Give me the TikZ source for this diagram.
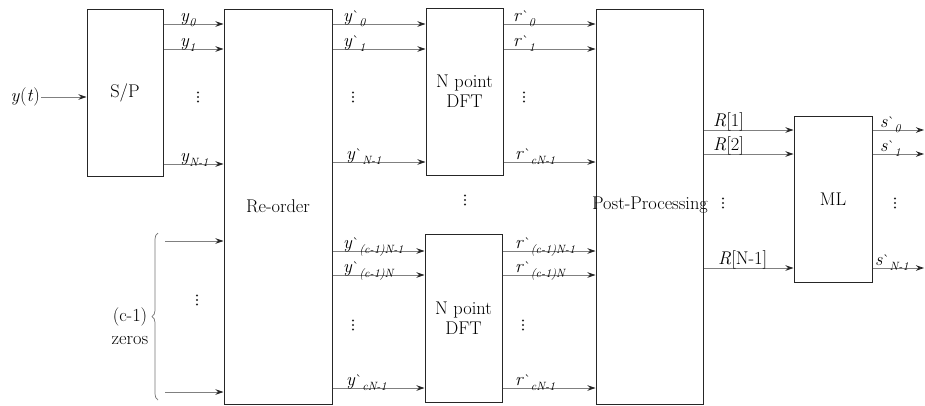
\documentclass[tikz,border=0pt]{standalone}
\usetikzlibrary{arrows.meta,decorations.pathreplacing,calc}
\newcommand\sbs[1]{\raisebox{-0.32em}{\fontsize{12}{12}\selectfont\itshape #1}}
\newcommand\prm{\raisebox{0.05em}{\fontsize{14}{14}\selectfont\textasciigrave}}
\newcommand\vdts[1]{\foreach \k in {-1,0,1}{\fill[black!85] ($(#1)+(0,\k*4.5)$) circle (1.1);}}
\begin{document}
\begin{tikzpicture}[x=1pt,y=-1pt,
  box/.style={draw=black!85,line width=1pt,inner sep=0pt,align=center,
    font=\fontsize{18.4}{20}\selectfont},
  arr/.style={draw=black!50,line width=0.9pt,
    -{Stealth[length=8pt,width=5.5pt,color=black!85]}},
  lab/.style={anchor=base west,inner sep=0pt,font=\fontsize{18.4}{22}\selectfont},
  txt/.style={inner sep=0pt,align=center,font=\fontsize{18.4}{23}\selectfont},
  brc/.style={draw=black!55,line width=0.7pt,decorate,decoration={brace,amplitude=6pt}}
]
\useasboundingbox (0,0) rectangle (925,405);

% boxes
\node[box,minimum width=76pt,minimum height=167pt] (sp) at (125,92.5) {S/P};
\node[box,minimum width=108pt,minimum height=395pt] (ro) at (278,206.5) {Re-order};
\node[box,minimum width=77pt,minimum height=167pt] (d1) at (464.5,91.5) {N point\\DFT};
\node[box,minimum width=77pt,minimum height=168pt] (d2) at (463.5,318) {N point\\DFT};
\node[box,minimum width=107pt,minimum height=395pt] (pp) at (649.5,206.5) {};
\node[txt] (pptext) at (650,205) {Post-Processing};
\node[box,minimum width=78pt,minimum height=166pt] (ml) at (833,199) {ML};

% input
\node[txt,anchor=east,inner sep=1pt] (yt) at (41,97) {\textit{y}(\textit{t})};
\coordinate (tin) at (0,97);
\draw[arr] (yt.east) -- (sp.west |- tin);

% S/P -> Re-order
\coordinate (s1) at (0,24); \coordinate (s2) at (0,49); \coordinate (s3) at (0,164);
\draw[arr] (sp.east |- s1) -- (ro.west |- s1);
\draw[arr] (sp.east |- s2) -- (ro.west |- s2);
\draw[arr] (sp.east |- s3) -- (ro.west |- s3);
\node[lab] (ls1) at (180,21) {\textit{y}\sbs{0}};
\node[lab] (ls2) at (180,46) {\textit{y}\sbs{1}};
\node[lab] (ls3) at (180,161) {\textit{y}\sbs{N-1}};
\vdts{198,97}

% zeros
\coordinate (z1) at (165,241); \coordinate (z2) at (165,392);
\draw[arr] (z1) -- (ro.west |- z1);
\draw[arr] (z2) -- (ro.west |- z2);
\vdts{197,300}
\coordinate (br1) at (158,400); \coordinate (br2) at (158,233);
\draw[brc] (br1) -- (br2);
\node[txt] (zl) at (130,326) {(c-1)\\zeros};

% Re-order -> DFT top
\coordinate (a1) at (0,24); \coordinate (a2) at (0,49); \coordinate (a3) at (0,162);
\draw[arr] (ro.east |- a1) -- (d1.west |- a1);
\draw[arr] (ro.east |- a2) -- (d1.west |- a2);
\draw[arr] (ro.east |- a3) -- (d1.west |- a3);
\node[lab] (la1) at (343,21) {\textit{y}\prm\sbs{0}};
\node[lab] (la2) at (343,46) {\textit{y}\prm\sbs{1}};
\node[lab] (la3) at (346,159) {\textit{y}\prm\sbs{N-1}};
\vdts{353,97}

% DFT top -> Post
\draw[arr] (d1.east |- a1) -- (pp.west |- a1);
\draw[arr] (d1.east |- a2) -- (pp.west |- a2);
\draw[arr] (d1.east |- a3) -- (pp.west |- a3);
\node[lab] (lr1) at (513,21) {\textit{r}\prm\sbs{0}};
\node[lab] (lr2) at (513,46) {\textit{r}\prm\sbs{1}};
\node[lab] (lr3) at (515,159) {\textit{r}\prm\sbs{cN-1}};
\vdts{524,97}

\vdts{465,200}

% Re-order -> DFT bottom
\coordinate (b1) at (0,251); \coordinate (b2) at (0,275); \coordinate (b3) at (0,388);
\draw[arr] (ro.east |- b1) -- (d2.west |- b1);
\draw[arr] (ro.east |- b2) -- (d2.west |- b2);
\draw[arr] (ro.east |- b3) -- (d2.west |- b3);
\node[lab] (lb1) at (343,248) {\textit{y}\prm\sbs{(c-1)N-1}};
\node[lab] (lb2) at (343,272) {\textit{y}\prm\sbs{(c-1)N}};
\node[lab] (lb3) at (346,385) {\textit{y}\prm\sbs{cN-1}};
\vdts{353,325}

% DFT bottom -> Post
\draw[arr] (d2.east |- b1) -- (pp.west |- b1);
\draw[arr] (d2.east |- b2) -- (pp.west |- b2);
\draw[arr] (d2.east |- b3) -- (pp.west |- b3);
\node[lab] (lq1) at (515,248) {\textit{r}\prm\sbs{(c-1)N-1}};
\node[lab] (lq2) at (515,272) {\textit{r}\prm\sbs{(c-1)N}};
\node[lab] (lq3) at (515,385) {\textit{r}\prm\sbs{cN-1}};
\vdts{523,325}

% Post -> ML
\coordinate (c1) at (0,130); \coordinate (c2) at (0,154); \coordinate (c3) at (0,268);
\draw[arr] (pp.east |- c1) -- (ml.west |- c1);
\draw[arr] (pp.east |- c2) -- (ml.west |- c2);
\draw[arr] (pp.east |- c3) -- (ml.west |- c3);
\node[lab] (lR1) at (713,126) {\textit{R}[1]};
\node[lab] (lR2) at (713,150) {\textit{R}[2]};
\node[lab] (lR3) at (718,264) {\textit{R}[N-1]};
\vdts{723,203}

% ML outputs
\coordinate (o1) at (924,130); \coordinate (o2) at (924,154); \coordinate (o3) at (924,268);
\draw[arr] (ml.east |- o1) -- (o1);
\draw[arr] (ml.east |- o2) -- (o2);
\draw[arr] (ml.east |- o3) -- (o3);
\node[lab] (lo1) at (880,127) {\textit{s}\prm\sbs{0}};
\node[lab] (lo2) at (880,151) {\textit{s}\prm\sbs{1}};
\node[lab] (lo3) at (875,265) {\textit{s}\prm\sbs{N-1}};
\vdts{895,203}
\end{tikzpicture}
\end{document}
